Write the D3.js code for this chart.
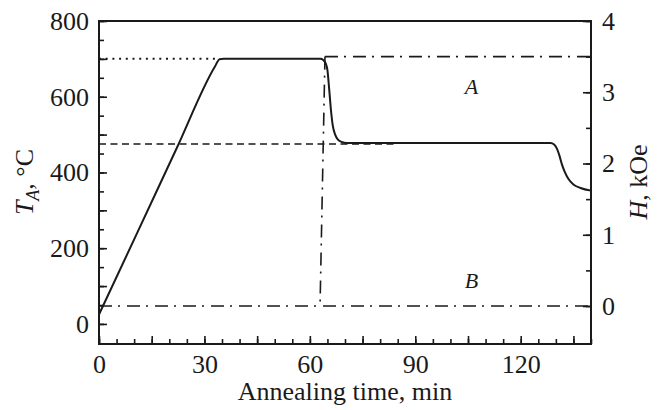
<!DOCTYPE html>
<html>
<head>
<meta charset="utf-8">
<script src="https://cdn.jsdelivr.net/npm/d3@7"></script>
<style>
  body { margin: 0; background: #fff; }
  svg { display: block; }
</style>
</head>
<body>
<div id="chart"></div>
<script>
// annealing temperature profile (min, degC)
const timeMin = [0, 11, 22, 33, 34.3, 35.5, 63, 63.8, 64.5, 65, 65.5, 66, 66.5, 67.2, 68, 69, 70.5,
  128.5, 129.5, 130.3, 131, 131.7, 132.5, 133.5, 135, 137, 140];
const tempC = [25, 243, 462, 680, 699, 700, 700, 697, 688, 670, 620, 565, 525, 500, 487, 481, 478,
  478, 474, 463, 445, 422, 402, 384, 368, 359, 352];

// reference temperature levels: [t0, t1, T]
const dottedLevel = [0, 34, 700];
const dashedLevel = [0, 85, 475];

// field profile (kOe), dash-dot
const fieldA = [[64.3, 3.5], [140, 3.5]];
const fieldStep = [[64.3, 3.5], [62.9, 0]];
const fieldB = [[0, 0], [140, 0]];

const xMajor = d3.range(0, 141, 15);
const xMinor = d3.range(0, 141, 5);
const tMajor = d3.range(0, 801, 100);
const tMinor = d3.range(0, 801, 50);
const hMajor = [0, 1, 2, 3, 4];
const hMinor = d3.range(0, 4.01, 0.5);

const W = 660, H = 410;
const FONT = '"Liberation Serif", "Times New Roman", serif';
const INK = '#1a1a1a';

const x = d3.scaleLinear().domain([0, 140]).range([99, 591]);
const yT = d3.scaleLinear().domain([-53, 800]).range([344, 21]);
const yH = d3.scaleLinear().domain([-0.533, 4]).range([344, 21]);

const svg = d3.select('#chart').append('svg')
  .attr('width', W)
  .attr('height', H);

function styleAxis(g) {
  g.attr('font-family', FONT).attr('font-size', 26);
  g.select('.domain').remove();
  g.selectAll('line').attr('stroke', INK).attr('stroke-width', 1.6);
  g.selectAll('text').attr('fill', INK);
}

// bottom
svg.append('g')
  .attr('transform', 'translate(0,344)')
  .call(d3.axisBottom(x).tickValues(xMinor).tickSize(-5).tickFormat(''))
  .call(styleAxis);
svg.append('g')
  .attr('transform', 'translate(0,344)')
  .call(d3.axisBottom(x).tickValues(xMajor).tickSize(-8).tickPadding(11)
    .tickFormat((d) => d % 30 === 0 ? d : ''))
  .call(styleAxis);

// left
svg.append('g')
  .attr('transform', 'translate(99,0)')
  .call(d3.axisLeft(yT).tickValues(tMinor).tickSize(-5).tickFormat(''))
  .call(styleAxis);
svg.append('g')
  .attr('transform', 'translate(99,0)')
  .call(d3.axisLeft(yT).tickValues(tMajor).tickSize(-8).tickPadding(10)
    .tickFormat((d) => d % 200 === 0 ? d : ''))
  .call(styleAxis);

// right
svg.append('g')
  .attr('transform', 'translate(591,0)')
  .call(d3.axisRight(yH).tickValues(hMinor).tickSize(-5).tickFormat(''))
  .call(styleAxis);
svg.append('g')
  .attr('transform', 'translate(591,0)')
  .call(d3.axisRight(yH).tickValues(hMajor).tickSize(-8).tickPadding(11)
    .tickFormat(d3.format('d')))
  .call(styleAxis);

// frame
svg.append('rect')
  .attr('x', x(0))
  .attr('y', yT(800))
  .attr('width', x(140) - x(0))
  .attr('height', yT(-53) - yT(800))
  .attr('fill', 'none')
  .attr('stroke', INK)
  .attr('stroke-width', 2);

// reference lines
const lineT = d3.line().x((d) => x(d[0])).y((d) => yT(d[1]));
const lineH = d3.line().x((d) => x(d[0])).y((d) => yH(d[1]));

svg.append('path')
  .attr('d', lineT([[dottedLevel[0], dottedLevel[2]], [dottedLevel[1], dottedLevel[2]]]))
  .attr('fill', 'none')
  .attr('stroke', INK)
  .attr('stroke-width', 2)
  .attr('stroke-dasharray', '2,4.7');

svg.append('path')
  .attr('d', lineT([[dashedLevel[0], dashedLevel[2]], [dashedLevel[1], dashedLevel[2]]]))
  .attr('fill', 'none')
  .attr('stroke', INK)
  .attr('stroke-width', 1.5)
  .attr('stroke-dasharray', '7,4.5');

[fieldA, fieldStep, fieldB].forEach((seg) => {
  svg.append('path')
    .attr('d', lineH(seg))
    .attr('fill', 'none')
    .attr('stroke', INK)
    .attr('stroke-width', 1.6)
    .attr('stroke-dasharray', '13,6,2,7');
});

// temperature curve
svg.append('path')
  .datum(d3.zip(timeMin, tempC))
  .attr('d', d3.line()
    .x((d) => x(d[0]))
    .y((d) => yT(d[1]))
    .curve(d3.curveMonotoneX))
  .attr('fill', 'none')
  .attr('stroke', INK)
  .attr('stroke-width', 2);

// A / B labels
svg.append('text')
  .attr('x', x(106)).attr('y', yH(2.97))
  .attr('text-anchor', 'middle')
  .attr('font-family', FONT).attr('font-size', 22).attr('font-style', 'italic')
  .attr('fill', INK)
  .text('A');
svg.append('text')
  .attr('x', x(106)).attr('y', yH(0.25))
  .attr('text-anchor', 'middle')
  .attr('font-family', FONT).attr('font-size', 22).attr('font-style', 'italic')
  .attr('fill', INK)
  .text('B');

// axis titles
svg.append('text')
  .attr('x', (x(0) + x(140)) / 2).attr('y', 400)
  .attr('text-anchor', 'middle')
  .attr('font-family', FONT).attr('font-size', 26)
  .attr('fill', INK)
  .text('Annealing time, min');

let tl = svg.append('text')
  .attr('transform', 'translate(33,182) rotate(-90)')
  .attr('text-anchor', 'middle')
  .attr('font-family', FONT).attr('font-size', 26)
  .attr('fill', INK);
tl.append('tspan').attr('font-style', 'italic').text('T');
tl.append('tspan').attr('font-style', 'italic').attr('font-size', 18).attr('dy', 6).text('A');
tl.append('tspan').attr('dy', -6).text(', \u00b0C');

let hl = svg.append('text')
  .attr('transform', 'translate(647,182) rotate(-90)')
  .attr('text-anchor', 'middle')
  .attr('font-family', FONT).attr('font-size', 26)
  .attr('fill', INK);
hl.append('tspan').attr('font-style', 'italic').text('H');
hl.append('tspan').text(', kOe');
</script>
</body>
</html>
